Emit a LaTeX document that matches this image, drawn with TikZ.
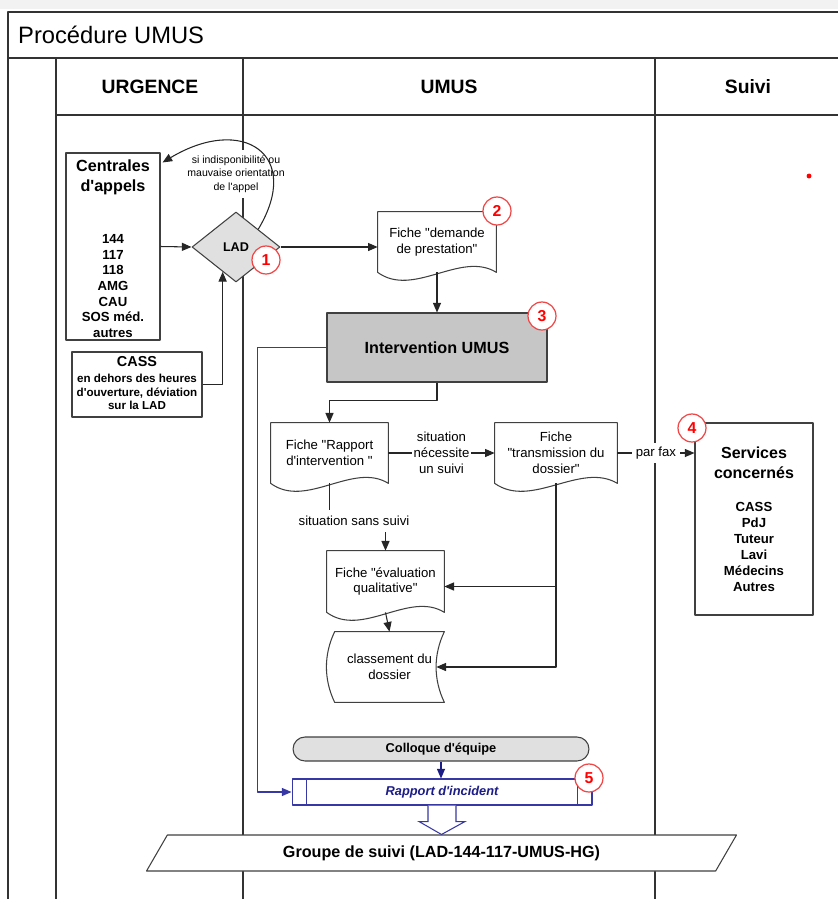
\documentclass[tikz,border=0pt]{standalone}
\usepackage{fontspec}
\setmainfont{Liberation Sans}[Ligatures=TeXOff]
\usetikzlibrary{shapes.geometric,arrows.meta,calc}
\definecolor{navy}{RGB}{28,28,135}
\definecolor{blueline}{RGB}{55,55,165}
\definecolor{redmark}{RGB}{240,70,70}
\definecolor{boxgray}{RGB}{198,198,198}
\definecolor{lightgray}{RGB}{224,224,224}
\newcommand\fsz[2]{\fontsize{#1}{#2}\selectfont}
\newcommand\docwave[1]{\draw[box] (#1.south west) -- (#1.north west) -- (#1.north east) -- (#1.south east)
  .. controls ($(#1.south east)!0.3!(#1.south west)+(0,-22)$) and ($(#1.south east)!0.7!(#1.south west)+(0,26)$) .. (#1.south west) -- cycle;}
\newcommand\storedshape[1]{\draw[box] (#1.north west) -- (#1.north east)
  .. controls ($(#1.north east)+(-11,23)$) and ($(#1.south east)+(-11,-23)$) .. (#1.south east) -- (#1.south west)
  .. controls ($(#1.south west)+(-11,-23)$) and ($(#1.north west)+(-11,23)$) .. (#1.north west) -- cycle;}
\begin{document}
\begin{tikzpicture}[x=0.02cm, y=-0.02cm, font=\fsz{7.5}{9}, line join=round, >={Triangle[length=5.5pt,width=4.6pt]},
    box/.style={draw=black!75, line width=0.6pt},
    lane/.style={draw=black!80, line width=1pt},
    flow/.style={draw=black!85, line width=0.6pt},
    doc/.style={minimum height=1.2cm, align=center, inner sep=1pt},
    num/.style={circle, draw=redmark, line width=0.7pt, fill=white, text=red, font=\fsz{9}{9}\bfseries, minimum size=0.56cm, inner sep=0pt},
    lbl/.style={fill=white, inner sep=1pt, align=center}]
	\useasboundingbox (0,0) rectangle (838,899);
	\fill[black!5] (0,0) rectangle (838,9);
	\draw[lane] (8,899) -- (8,12) -- (838,12) (8,58) -- (838,58) (56,115) -- (838,115);
	\foreach \lx in {56,243,655} \draw[lane] (\lx,58) -- (\lx,899);
	
	\node[anchor=west, font=\fsz{13.5}{15}] (titre) at (12,35) {Procédure UMUS};
	\foreach \h/\hx/\txt in {urg/150/URGENCE, umus/449/UMUS, suivi/748/Suivi}
	\node[font=\fsz{11}{13}\bfseries] (hd\h) at (\hx,87) {\txt};
	
	\node[box, minimum width=1.88cm, minimum height=3.74cm] (centrales) at (113,246.5) {};
	\node[font=\fsz{9.2}{11.3}\bfseries, align=center] (centralesT) at (113,177) {Centrales\\d'appels};
	\node[font=\fsz{7.5}{8.9}\bfseries, align=center] (centralesL) at (113,286) {144\\117\\118\\AMG\\CAU\\SOS méd.\\autres};
	\node[box, minimum width=2.6cm, minimum height=1.3cm] (cass) at (137,384.5) {};
	\node[font=\fsz{8.2}{9}\bfseries] (cassT) at (137,362) {CASS};
	\node[font=\fsz{6.6}{7.7}\bfseries, align=center] (cassL) at (137,392) {en dehors des heures\\d'ouverture, déviation\\sur la LAD};
	\node[lbl, inner sep=3pt, font=\fsz{6}{7.6}] (retourLbl) at (236,174) {si indisponibilité ou\\mauvaise orientation\\de l'appel};
	\node[box, diamond, fill=lightgray, minimum width=1.76cm, minimum height=1.4cm, inner sep=0pt, font=\fsz{7.2}{9}\bfseries] (lad) at (236,247) {LAD};
	
	\node[doc, minimum width=2.36cm] (demande) at (437,242) {Fiche "demande\\de prestation"};
	\node[box, fill=boxgray, minimum width=4.4cm, minimum height=1.38cm, font=\fsz{9.2}{11}\bfseries] (intervention) at (437,347.5) {Intervention UMUS};
	\node[doc, minimum width=2.34cm] (rapport) at (329.5,453) {Fiche "Rapport\\d'intervention "};
	\node[doc, minimum width=2.44cm] (transmission) at (556,453) {Fiche\\"transmission du\\dossier"};
	\node (sansSuivi) at (354,521) {situation sans suivi};
	\node[doc, minimum width=2.34cm, minimum height=1.22cm] (evaluation) at (385.5,581.5) {Fiche "évaluation\\qualitative"};
	\node[minimum width=2.18cm, minimum height=1.4cm, align=center] (classement) at (389.5,667) {classement du\\dossier};
	\node[box, minimum width=2.36cm, minimum height=3.84cm] (services) at (754,519) {};
	\node[font=\fsz{9.1}{11.3}\bfseries, align=center] (servicesT) at (754,463) {Services\\concernés};
	\node[font=\fsz{7.5}{9.07}\bfseries, align=center] (servicesL) at (754,547) {CASS\\PdJ\\Tuteur\\Lavi\\Médecins\\Autres};
	\node[box, fill=lightgray, rounded corners=0.24cm, minimum width=5.92cm, minimum height=0.48cm, font=\fsz{7.3}{9}\bfseries] (colloque) at (441,749) {Colloque d'équipe};
	\node[draw=blueline, line width=0.6pt, fill=white, text=navy, minimum width=6cm, minimum height=0.52cm, font=\fsz{7.3}{9}\bfseries\itshape] (incident) at (442,792) {Rapport d'incident};
	\node[box, trapezium, trapezium left angle=65, trapezium right angle=115, trapezium stretches=true, fill=white, minimum width=11.82cm, minimum height=0.72cm, font=\fsz{9.2}{11}\bfseries] (groupe) at (441.5,853) {Groupe de suivi (LAD-144-117-UMUS-HG)};
	
	\foreach \d in {demande,rapport,transmission,evaluation} \docwave{\d};
	\storedshape{classement}
	\draw[blueline, line width=0.6pt] ($(incident.north west)+(15,0)$) -- ($(incident.south west)+(15,0)$)
	($(incident.north east)+(-15,0)$) -- ($(incident.south east)+(-15,0)$);
	
	\path ($(lad.west)!0.7!(lad.south)$) coordinate (ladCass)
	($(lad.north)!0.5!(lad.east)$) coordinate (ladRetour)
	($(centrales.north east)+(2,10)$) coordinate (centralesRetour)
	($(evaluation.east)+(0,5)$) coordinate (evalIn)
	($(classement.east)+(-8,0)$) coordinate (classIn);
	
	\draw[flow,->] (centrales.east) -- (lad.west);
	\draw[flow,->] (cass.east) -| (ladCass);
	\draw[flow,->] (ladRetour) .. controls +(45,-75) and +(80,-48) .. (centralesRetour);
	\draw[flow,->] (lad.east) -- (lad.east -| demande.west);
	\draw[flow,->] (demande.south) -- (intervention.north);
	\draw[flow,->] (intervention.south) -- ++(0,18) -| (rapport.north);
	\draw[flow,->] (rapport.east) -- node[lbl] (suiviLbl) {situation\\nécessite\\un suivi} (transmission.west);
	\draw[flow,->] (transmission.east) -- node[lbl, inner sep=2pt] (faxLbl) {par fax} (transmission.east -| services.west);
	\draw[flow] (rapport.south) -- (rapport.south |- sansSuivi.north);
	\draw[flow,->] (sansSuivi.south -| evaluation.north) -- (evaluation.north);
	\draw[flow,->] (transmission.south) |- (classIn);
	\draw[flow,->] (transmission.south |- evalIn) -- (evalIn);
	\draw[flow,->] (evaluation.south) -- (classement.north);
	\draw[blueline, line width=0.6pt, ->] (intervention.west) -- ++(-69,0) |- (incident.west);
	\draw[navy, line width=0.6pt, ->] (colloque.south) -- (colloque.south |- incident.north);
	\draw[blueline, line width=0.6pt, fill=white, line join=miter] ($(incident.south)+(-14,0)$) -- ++(0,16) -- ++(-9,0) -- (groupe.north)
	-- ($(incident.south)+(23,16)$) -- ++(-9,0) -- ($(incident.south)+(14,0)$);
	
	\foreach \n/\px/\py in {1/266/260, 2/497/211, 3/542/316, 4/692/428, 5/589/778}
	\node[num] (num\n) at (\px,\py) {\n};
	\fill[red] (809,176) circle (1.4pt);
\end{tikzpicture}
\end{document}
